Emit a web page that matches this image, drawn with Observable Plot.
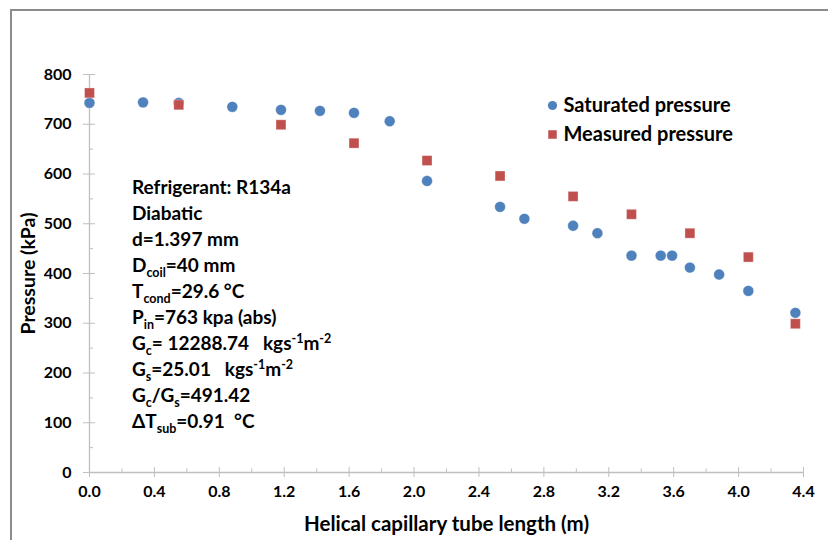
<!DOCTYPE html>
<html><head><meta charset="utf-8">
<script src="https://cdn.jsdelivr.net/npm/d3@7"></script>
<script src="https://cdn.jsdelivr.net/npm/@observablehq/plot@0.6"></script>
<style>
body{margin:0;background:#fff;}
#wrap{position:relative;width:828px;height:540px;overflow:hidden;}
#frame{position:absolute;left:10px;top:9px;width:900px;height:600px;border-left:2px solid #8c8c8c;border-top:2px solid #8c8c8c;pointer-events:none;}
svg{display:block;}
</style></head><body><div id="wrap"><div id="frame"></div></div>
<script>
// ---- data ----
const satLength   = [0, 0.33, 0.55, 0.88, 1.18, 1.42, 1.63, 1.85, 2.08, 2.53, 2.68, 2.98, 3.13, 3.34, 3.52, 3.59, 3.70, 3.88, 4.06, 4.35];
const satPressure = [743, 744, 743, 735, 729, 727, 723, 706, 586, 534, 510, 496, 481, 436, 436, 436, 412, 398, 365, 321];
const measLength   = [0, 0.55, 1.18, 1.63, 2.08, 2.53, 2.98, 3.34, 3.70, 4.06, 4.35];
const measPressure = [763, 739, 699, 662, 627, 596, 555, 519, 481, 433, 299];
const xTicks = [0, 0.4, 0.8, 1.2, 1.6, 2.0, 2.4, 2.8, 3.2, 3.6, 4.0, 4.4];
const xMinor = [0.2, 0.6, 1.0, 1.4, 1.8, 2.2, 2.6, 3.0, 3.4, 3.8, 4.2];
const yTicks = [0, 100, 200, 300, 400, 500, 600, 700, 800];
const yMinor = [50, 150, 250, 350, 450, 550, 650, 750];
const legendLabels = ["Saturated pressure", "Measured pressure"];
const xTitle = "Helical capillary tube length (m)";
const yTitle = "Pressure (kPa)";
// annotation lines: [text, kind] where kind is "", "sub" or "sup"
const annotationLines = [
  [["Refrigerant: R134a", ""]],
  [["Diabatic", ""]],
  [["d=1.397 mm", ""]],
  [["D", ""], ["coil", "sub"], ["=40 mm", ""]],
  [["T", ""], ["cond", "sub"], ["=29.6 °C", ""]],
  [["P", ""], ["in", "sub"], ["=763 kpa (abs)", ""]],
  [["G", ""], ["c", "sub"], ["= 12288.74   kgs", ""], ["-1", "sup"], ["m", ""], ["-2", "sup"]],
  [["G", ""], ["s", "sub"], ["=25.01   kgs", ""], ["-1", "sup"], ["m", ""], ["-2", "sup"]],
  [["G", ""], ["c", "sub"], ["/G", ""], ["s", "sub"], ["=491.42", ""]],
  [["ΔT", ""], ["sub", "sub"], ["=0.91  °C", ""]]
];

const sat = satLength.map((x, i) => ({x, y: satPressure[i]}));
const meas = measLength.map((x, i) => ({x, y: measPressure[i]}));

const FONT = "Lato, 'Open Sans', sans-serif";
const blue = "#4f81bd", red = "#c0504d", axisGray = "#bfbfbf";

const annotationMark = () => {
  const g = d3.create("svg:g")
    .attr("font-family", FONT).attr("font-weight", "bold").attr("font-size", 19)
    .attr("fill", "#000").attr("text-anchor", "start");
  annotationLines.forEach((segs, i) => {
    const t = g.append("text").attr("x", 132).attr("y", 194 + i * 26)
      .attr("text-anchor", "start").style("white-space", "pre");
    let shift = 0;
    segs.forEach(([s, kind]) => {
      const target = kind === "sub" ? 5 : kind === "sup" ? -7 : 0;
      const ts = t.append("tspan").text(s).attr("dy", target - shift);
      if (kind) ts.attr("font-size", 12.5);
      shift = target;
    });
  });
  return g.node();
};

const chart = Plot.plot({
  width: 828, height: 540,
  marginLeft: 89, marginRight: 25, marginTop: 74, marginBottom: 68,
  style: {fontFamily: FONT, fontWeight: "bold", fontSize: "16px", background: "white", color: "black"},
  x: {domain: [0, 4.4]},
  y: {domain: [0, 800]},
  marks: [
    Plot.ruleY([0], {stroke: axisGray, strokeWidth: 1.3}),
    Plot.ruleX([0], {stroke: axisGray, strokeWidth: 1.3}),
    Plot.axisX(xTicks, {tickSize: 5, tickPadding: 8, stroke: axisGray, fill: "black", tickFormat: d3.format(".1f"), label: null, fontSize: 16}),
    Plot.axisX(xTicks, {tickSize: -5, text: null, stroke: axisGray, label: null}),
    Plot.axisX(xMinor, {tickSize: -3.5, text: null, stroke: axisGray, label: null}),
    Plot.axisY(yTicks, {tickSize: 6, tickPadding: 12, stroke: axisGray, fill: "black", label: null, fontSize: 16}),
    Plot.axisY(yTicks, {tickSize: -6, text: null, stroke: axisGray, label: null}),
    Plot.axisY(yMinor, {tickSize: -4, text: null, stroke: axisGray, label: null}),
    Plot.dot(sat, {x: "x", y: "y", r: 5.4, fill: blue, stroke: "#ffffff", strokeOpacity: 0.4, strokeWidth: 0.8}),
    Plot.dot(meas, {x: "x", y: "y", symbol: "square", r: 5.6, fill: red, stroke: "#ffffff", strokeOpacity: 0.4, strokeWidth: 0.8}),
    // legend
    Plot.dot([legendLabels[0]], {frameAnchor: "top-left", dx: 463, dy: 31, r: 4.6, fill: blue}),
    Plot.dot([legendLabels[1]], {frameAnchor: "top-left", dx: 463, dy: 60, r: 4.8, symbol: "square", fill: red}),
    Plot.text([legendLabels[0]], {text: d => d, frameAnchor: "top-left", dx: 474, dy: 31, textAnchor: "start", lineAnchor: "middle", fontSize: 20, fill: "black"}),
    Plot.text([legendLabels[1]], {text: d => d, frameAnchor: "top-left", dx: 474, dy: 60, textAnchor: "start", lineAnchor: "middle", fontSize: 20, fill: "black"}),
    // axis titles
    Plot.text([xTitle], {text: d => d, frameAnchor: "bottom", lineAnchor: "middle", dx: 0, dy: 52, fontSize: 20.5, fill: "black"}),
    Plot.text([yTitle], {text: d => d, frameAnchor: "left", textAnchor: "middle", dx: -61, rotate: -90, fontSize: 19.5, fill: "black"}),
    annotationMark
  ]
});
document.getElementById("wrap").prepend(chart);
</script>
</body></html>
